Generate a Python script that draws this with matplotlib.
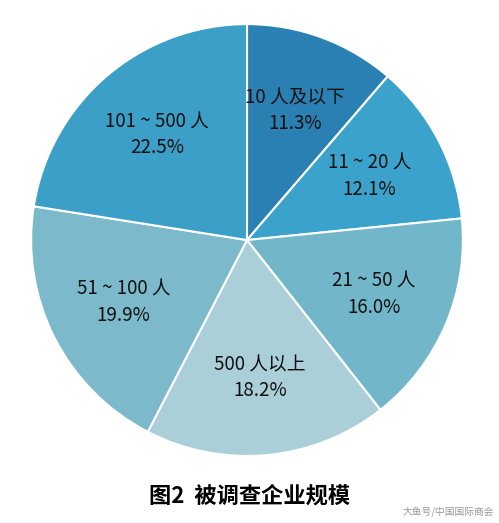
import matplotlib.pyplot as plt
import numpy as np

plt.rcParams['font.family'] = ['Noto Sans CJK SC', 'DejaVu Sans']

labels = ['10 人及以下', '11 ~ 20 人', '21 ~ 50 人', '500 人以上', '51 ~ 100 人', '101 ~ 500 人']
values = [11.3, 12.1, 16.0, 18.2, 19.9, 22.5]
colors = ['#2b80b3', '#3ba3cb', '#72b7c9', '#aacfd8', '#7cbacb', '#3b9fc7']

fig = plt.figure(figsize=(4.99, 5.23), dpi=100)
ax = fig.add_axes([0.058, 0.124, 0.874, 0.834])

wedges, texts = ax.pie(values, colors=colors, startangle=90, counterclock=False,
                       wedgeprops=dict(edgecolor='white', linewidth=1.5))
for w, lab, v in zip(wedges, labels, values):
    ang = np.deg2rad((w.theta1 + w.theta2) / 2)
    r = 0.64
    ax.text(r * np.cos(ang), r * np.sin(ang), f'{lab}\n{v:.1f}%', ha='center', va='center',
            fontsize=13.5, color='#111111', linespacing=1.3)
ax.set_xlim(-1.01, 1.01)
ax.set_ylim(-1.01, 1.01)
ax.set_aspect('auto')

fig.text(0.5, 0.052, '图2  被调查企业规模', ha='center', va='center', fontsize=16, fontweight='bold')
fig.text(0.99, 0.012, '大鱼号/中国国际商会', ha='right', va='bottom', fontsize=7, color='#999999')

fig.savefig('out.png', dpi=100)
